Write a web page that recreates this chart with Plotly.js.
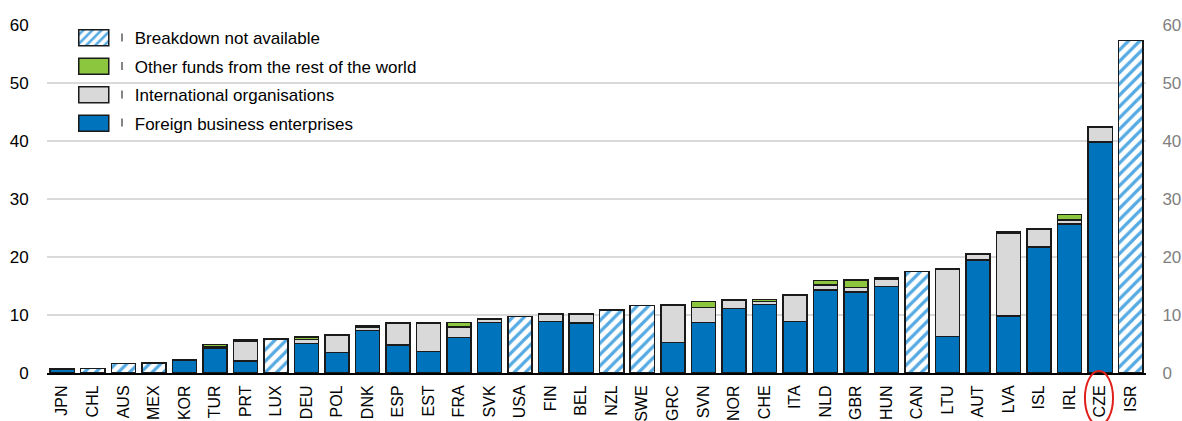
<!DOCTYPE html>
<html>
<head>
<meta charset="utf-8">
<script src="https://cdn.plot.ly/plotly-3.0.1.min.js"></script>
<style>html,body{margin:0;padding:0;background:#fff;}#chart{width:1182px;height:421px;}</style>
</head>
<body>
<div id="chart"></div>
<script>
const categories = ["JPN","CHL","AUS","MEX","KOR","TUR","PRT","LUX","DEU","POL","DNK","ESP","EST","FRA","SVK","USA","FIN","BEL","NZL","SWE","GRC","SVN","NOR","CHE","ITA","NLD","GBR","HUN","CAN","LTU","AUT","LVA","ISL","IRL","CZE","ISR"];
const foreignBusiness = [0.6,null,null,null,2.15,4.2,2.1,null,5.05,3.55,7.3,4.8,3.7,6.1,8.7,null,8.9,8.6,null,null,5.3,8.7,11.1,11.8,8.9,14.3,14.0,14.9,null,6.3,19.5,9.8,21.7,25.7,39.8,null];
const internationalOrgs = [0.05,null,null,null,0.05,0.3,3.45,null,0.75,2.9,0.65,3.8,4.9,1.8,0.6,null,1.2,1.45,null,null,6.3,2.6,1.4,0.5,4.5,0.9,0.75,1.25,null,11.6,1.0,14.3,3.0,0.7,2.6,null];
const otherFunds = [0.05,null,null,null,0.05,0.45,0.1,null,0.4,0.1,0.15,0.1,0.1,0.8,0.1,null,0.1,0.25,null,null,0.1,1.0,0.1,0.35,0.15,0.75,1.25,0.2,null,0.1,0.1,0.3,0.1,0.9,0.05,null];
const breakdownNA = [null,0.8,1.6,1.7,null,null,null,5.9,null,null,null,null,null,null,null,9.75,null,null,10.9,11.6,null,null,null,null,null,null,null,null,17.5,null,null,null,null,null,null,57.3];
const seriesNames = ["Foreign business enterprises","International organisations","Other funds from the rest of the world","Breakdown not available"];
const yTicks = [0,10,20,30,40,50,60];

const FONT = "Liberation Sans, Arial, sans-serif";
const bar = {color:"#1a1a1a", width:1.5};

const traces = [
  {type:"bar", name: seriesNames[0], legendgroup:"a", legendrank:4, x:categories, y:foreignBusiness, marker:{color:"#0073bd", line:bar}, hoverinfo:"x+y"},
  {type:"bar", name: seriesNames[1], legendgroup:"b", legendrank:3, x:categories, y:internationalOrgs, marker:{color:"#d9d9d9", line:bar}, hoverinfo:"x+y"},
  {type:"bar", name: seriesNames[2], legendgroup:"c", legendrank:2, x:categories, y:otherFunds, marker:{color:"#8cc63f", line:bar}, hoverinfo:"x+y"},
  {type:"bar", name: seriesNames[3], legendgroup:"d", legendrank:1, x:categories, y:breakdownNA,
   marker:{color:"#ffffff", line:bar, pattern:{shape:"/", fgcolor:"#55aae3", bgcolor:"#ffffff", size:8, solidity:0.4}}, hoverinfo:"x+y"},
  {type:"scatter", mode:"lines", x:[categories[0]], y:[null], yaxis:"y2", showlegend:false, hoverinfo:"skip"}
];

// small separator ticks between legend swatches and labels (pixel positions converted to paper units)
const plotL = 47, plotW = 1099, plotB = 373, plotH = 348;
const sepCentersPx = [37.5, 66, 94.5, 122.5];
const sepShapes = sepCentersPx.map(function(cy){
  return {type:"line", xref:"paper", yref:"paper",
          x0:(122-plotL)/plotW, x1:(122-plotL)/plotW,
          y0:(plotB-(cy+4))/plotH, y1:(plotB-(cy-4))/plotH,
          line:{color:"#333333", width:1.2}, layer:"above"};
});

const layout = {
  width:1182, height:421,
  margin:{l:47, r:36, t:25, b:48},
  paper_bgcolor:"#ffffff", plot_bgcolor:"#ffffff",
  barmode:"stack", bargap:0.21,
  font:{family:FONT, size:17, color:"#000"},
  showlegend:true,
  legend:{x:0.028, y:1.0135, xanchor:"left", yanchor:"top", traceorder:"grouped", tracegroupgap:3.4,
          itemwidth:47, bgcolor:"rgba(0,0,0,0)", font:{family:FONT, size:17, color:"#000"}},
  xaxis:{type:"category", range:[-0.5,35.5], showline:true, linecolor:"#000", linewidth:2, tickangle:-90,
         tickfont:{family:FONT, size:16, color:"#000"}, ticks:"outside", ticklen:4, tickcolor:"rgba(0,0,0,0)", showgrid:false},
  yaxis:{range:[0,60], tickvals:yTicks, showgrid:true, gridcolor:"#d9d9d9", gridwidth:1.5, zeroline:false, showline:false,
         ticks:"outside", ticklen:14, tickcolor:"rgba(0,0,0,0)", tickfont:{family:FONT, size:17, color:"#000"}},
  yaxis2:{range:[0,60], tickvals:yTicks, overlaying:"y", side:"right", showgrid:false, zeroline:false, showline:false,
          ticks:"outside", ticklen:12, tickcolor:"rgba(0,0,0,0)", tickfont:{family:FONT, size:17, color:"#808080"}},
  shapes:[{type:"circle", xref:"x", yref:"paper", x0:33.5, x1:34.42, y0:-0.15, y1:0.006, line:{color:"#e0201b", width:2}, layer:"above"}].concat(sepShapes)
};

Plotly.newPlot("chart", traces, layout, {displayModeBar:false, staticPlot:true}).then(function(gd){
  // widen legend swatches to the wide rectangles of the original
  gd.querySelectorAll(".legend .legendpoints path").forEach(function(p){
    p.setAttribute("d", "M15,8H-15V-8H15Z");
    p.setAttribute("transform", "translate(16,0)");
  });
});
</script>
</body>
</html>
